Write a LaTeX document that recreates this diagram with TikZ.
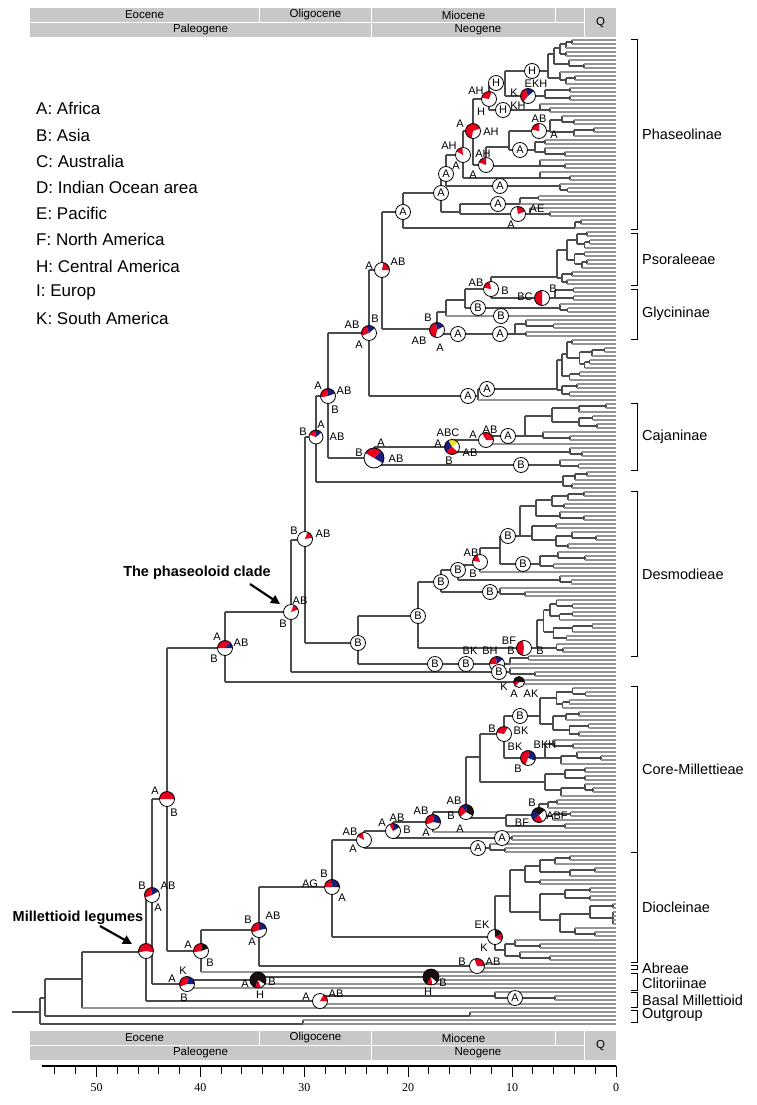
\documentclass[tikz,border=0pt]{standalone}
\usepackage{fontspec}
\setmainfont{Liberation Sans}
\newfontfamily\axisfont{Liberation Serif}
\usetikzlibrary{arrows.meta}

\definecolor{pred}{RGB}{230,0,30}
\definecolor{pblue}{RGB}{28,28,125}
\definecolor{pblk}{RGB}{25,15,15}
\definecolor{pyel}{RGB}{235,225,40}
\definecolor{eraband}{RGB}{200,200,200}

\def\tipx{616}

% recursive crown: x, first tip y, number of tips, x step, first split (0 = auto)
\newcommand\subtree[5]{%
  \ifnum#3<2\relax
    \draw[tipln] (#1,#2) -- (\tipx,#2);%
  \else
    \begingroup
    \ifnum#5>0\relax
      \edef\stNa{#5}%
    \else
      \pgfmathtruncatemacro\stNa{max(1,min(#3-1,round(#3*(0.3+0.04*mod(#2+7*#3,11)))))}%
    \fi
    \pgfmathtruncatemacro\stNb{#3-\stNa}%
    \pgfmathtruncatemacro\stYc{#2+4*\stNa}%
    \pgfmathsetmacro\stYa{#2+2*(\stNa-1)}%
    \pgfmathsetmacro\stYb{\stYc+2*(\stNb-1)}%
    \ifnum\stNa>1\relax
      \pgfmathsetmacro\stXa{min(#1+#4*(0.5+0.25*mod(#2,5)),\tipx-3)}%
    \else
      \edef\stXa{#1}%
    \fi
    \ifnum\stNb>1\relax
      \pgfmathsetmacro\stXb{min(#1+#4*(0.5+0.25*mod(3*#2+#3,5)),\tipx-3)}%
    \else
      \edef\stXb{#1}%
    \fi
    \draw[br] (#1,\stYa) -- (#1,\stYb) (#1,\stYa) -- (\stXa,\stYa) (#1,\stYb) -- (\stXb,\stYb);%
    \edef\stNext{\noexpand\subtree{\stXa}{#2}{\stNa}{#4}{0}\noexpand\subtree{\stXb}{\stYc}{\stNb}{#4}{0}}%
    \stNext
    \endgroup
  \fi}

% pie chart at a node: [radius]{name}{x}{y}{colour/start/end,...}
\newcommand\pie[5][7.5]{%
  \coordinate (#2) at (#3,#4);
  \begin{scope}[shift={(#3,#4)},x=1pt,y=1pt]
    \fill[white] (0,0) circle[radius=#1];
    \foreach \pc/\pa/\pb in {#5}{\fill[\pc] (0,0) -- (\pa:#1) arc[start angle=\pa,end angle=\pb,radius=#1] -- cycle;}
    \draw[line width=0.8pt] (0,0) circle[radius=#1];
  \end{scope}}

\begin{document}
\begin{tikzpicture}[x=1pt,y=-1pt,
   br/.style={draw=black!70,line width=1.05pt},
   tipln/.style={draw=black!42,line width=1.9pt},
   lc/.style={circle,draw=black,line width=0.8pt,fill=white,inner sep=0pt,minimum size=15pt,
              font=\fontsize{11}{12}\selectfont},
   nlab/.style={font=\fontsize{11}{12}\selectfont,inner sep=0pt},
   clade/.style={font=\fontsize{14.5}{17}\selectfont,anchor=west,inner sep=0pt},
   legend/.style={font=\fontsize{17}{20}\selectfont,anchor=west,inner sep=0pt},
   era/.style={font=\fontsize{11.5}{13}\selectfont,inner sep=0pt},
   note/.style={font=\bfseries\fontsize{14.5}{17}\selectfont,inner sep=0pt},
   pointer/.style={line width=2.2pt,-{Triangle[length=9pt,width=9pt]}}
]
\fill[white] (0,0) rectangle (756,1105);
\useasboundingbox (0,0) rectangle (756,1105);

% ---------- geological time bands (top and bottom) ----------
\foreach \yt in {8,1031}{
  \foreach \xa/\xb/\lab in {30/259/Eocene,260/371/Oligocene,372/555/Miocene,556/584/{}}{
    \fill[eraband] (\xa,\yt) rectangle (\xb,\yt+14);
    \node[era] at ({(\xa+\xb)/2},\yt+7) {\lab};
  }
  \foreach \xa/\xb/\lab in {30/371/Paleogene,372/584/Neogene}{
    \fill[eraband] (\xa,\yt+15) rectangle (\xb,\yt+29);
    \node[era] at ({(\xa+\xb)/2},\yt+22) {\lab};
  }
  \fill[eraband] (585,\yt) rectangle (616,\yt+29);
  \node[era] at (600.5,\yt+14.5) {Q};
}

% ---------- time axis ----------
\draw[line width=1.2pt] (42,1066) -- (616,1066);
\foreach \t in {0,2,...,54} \draw[line width=1pt] ({616-10.39*\t},1066) -- ({616-10.39*\t},1074);
\foreach \t in {0,10,...,50}{
  \draw[line width=1pt] ({616-10.39*\t},1066) -- ({616-10.39*\t},1077);
  \node[font=\axisfont\fontsize{12}{14}\selectfont] at ({616-10.39*\t},1088) {\t};
}

% ---------- legend ----------
\foreach \yl/\txt in {108/A: Africa,135/B: Asia,161/C: Australia,187/D: Indian Ocean area,
                      213/E: Pacific,239/F: North America,266/H: Central America,
                      292/I: Europ,318/K: South America}
  \node[legend] at (36,\yl) {\txt};

% ---------- backbone ----------
\draw[br] (12,1012) -- (40,1012);
\foreach \x/\ya/\yb in {40/998/1024,45/979/1016,82/952/1008,146/895/1001,152/799/984,
    167/648/951,225/612/682,291/540/672,305/437/643,358/616/664,316/396/482,328/333/458,
    369/270/396,478/389/400,382/212/329,403/193/228,441/174/212,446/155/186,463/131/178,
    473/99/165,489/83/110,505/71/96,486/147/166,509/131/150,460/204/214,437/312/334,
    446/300/316,465/289/308,491/277/298,374/447/465,452/440/452,486/436/444,418/582/648,
    441/570/592,458/565/580,480/548/572,500/536/564,201/930/972,259/887/966,332/840/937,
    364/831/848,393/822/838,433/812/832,466/757/818,480/734/782,506/815/826,504/716/758,
    187/980/988,258/977/984,320/996/1004}
  \draw[br] (\x,\ya) -- (\x,\yb);
\foreach \xa/\xb/\y in {40/45/998,40/303/1024,45/82/979,45/470/1016,82/146/952,146/152/895,
    146/320/1001,152/167/799,152/187/984,167/225/648,167/201/951,225/291/612,225/519/682,
    291/305/540,291/510/672,305/316/437,305/358/643,358/418/616,358/510/664,316/328/396,
    316/563/482,328/369/333,328/374/458,369/382/270,369/478/396,478/557/389,382/403/212,
    382/437/329,403/441/193,403/575/228,441/446/174,441/460/212,446/463/155,446/560/186,
    463/473/131,463/540/178,473/489/99,473/486/165,489/505/83,489/540/110,505/548/71,
    505/545/96,486/509/147,486/540/166,509/550/131,509/535/150,460/520/204,460/530/214,
    437/446/312,437/515/334,446/465/300,465/491/289,465/560/308,491/557/277,491/555/298,
    374/452/447,374/560/465,452/486/440,452/570/452,486/525/436,418/441/582,418/537/648,
    441/458/570,441/500/592,458/480/565,458/560/580,480/500/548,500/520/536,500/540/564,
    201/259/930,259/332/887,259/477/966,332/364/840,332/495/937,364/393/831,364/490/848,
    393/433/822,393/512/838,433/466/812,466/480/757,466/506/818,480/504/734,480/545/782,
    506/539/815,506/565/826,504/540/716,504/545/758,187/258/980,258/431/977,320/495/996}
  \draw[br] (\xa,\y) -- (\xb,\y);
\foreach \xa/\y in {82/1008,478/400,446/316,486/444,480/572,201/972,433/832,187/988,258/984,320/1004}
  \draw[tipln] (\xa,\y) -- (\tipx,\y);

% ---------- crowns ----------
\foreach \sx/\sy/\sn/\ss/\sa in {548/40/12/12/8,545/88/4/20/2,540/104/3/20/1,550/116/6/16/3,
    535/140/5/20/2,540/160/3/20/1,540/172/3/20/1,560/184/3/15/1,520/196/3/25/2,530/208/3/20/1,
    575/220/3/12/2,557/232/14/10/10,555/288/4/15/2,560/304/3/15/1,515/320/5/22/3,
    557/340/15/10/11,525/404/10/18/7,570/448/3/12/1,560/460/3/15/1,563/472/5/12/3,
    520/492/15/16/8,540/552/5/18/3,560/576/3/15/1,500/588/3/25/1,537/600/14/13/11,
    510/656/3/25/2,510/668/3/25/1,519/680/2/30/1,540/688/13/13/6,545/740/7/16/3,
    545/768/8/16/4,539/800/6/18/3,565/824/2/20/1,512/836/2/30/1,490/844/3/30/1,
    495/856/27/20/21,477/964/2/30/1,431/976/2/30/1,495/992/3/40/1,470/1012/2/30/1,
    303/1020/2/30/1}
  {\subtree{\sx}{\sy}{\sn}{\ss}{\sa}}

% ---------- ancestral-area pies ----------
\pie{pN5}{463}{155}{pred/95/150}
\pie{pN6}{473}{131}{pred/20/260}
\pie{pN7}{489}{99}{pred/70/170}
\pie{pEKH}{528}{96}{pblue/40/110,pred/110/230}
\pie{pQ486}{486}{165}{pred/90/160}
\pie{pAB1}{539}{131}{pred/90/170}
\pie{pAE}{518}{214}{pred/20/100}
\pie{pK3}{382}{270}{pred/0/80}
\pie{pGP}{437}{330}{pblue/30/100,pred/100/260}
\pie{pK2}{369}{333}{pblue/40/110,pred/110/200}
\pie{pPS}{491}{289}{pred/100/170}
\pie{pBC}{542}{298}{pred/90/270}
\pie{pK1}{328}{396}{pblue/20/100,pred/100/190}
\pie[7]{pW}{316}{437}{pblue/40/100,pred/100/160}
\pie[10]{pCJ}{374}{458}{pblue/-30/45,pred/45/150}
\pie{pCJ1}{452}{447}{pyel/40/120,pblue/120/220,pred/220/320}
\pie{pCJ2}{486}{440}{pred/0/120}
\pie{pY}{305}{539}{pred/10/70}
\pie{pX}{291}{612}{pred/20/70}
\pie{pS}{225}{648}{pblue/0/50,pred/50/180}
\pie{pD3}{480}{562}{pred/110/170}
\pie{pBF}{524}{648}{pred/100/260}
\pie{pZb}{497}{664}{pblue/40/100,pred/100/180}
\pie[5.5]{pSb}{519}{682}{pblk/0/180,pred/180/230}
\pie{pC7}{504}{734}{pred/60/170}
\pie{pC7b}{528}{758}{pblue/-20/80,pred/80/250}
\pie{pC6b}{539}{815}{pblk/40/150,pblue/150/220,pred/220/300}
\pie{pC4}{466}{812}{pblk/-30/80,pblue/80/130,pred/130/220}
\pie{pC3}{433}{822}{pblue/-10/80,pred/80/200}
\pie{pC2}{393}{831}{pblue/30/90,pred/90/120}
\pie{pC1}{364}{840}{pred/100/150}
\pie{pV}{332}{887}{pblk/0/20,pblue/20/100,pred/100/180}
\pie{pDI}{495}{937}{pred/-30/30,pblk/30/90}
\pie{pU}{259}{930}{pblue/10/90,pred/90/200}
\pie{pT}{201}{951}{pblk/20/80,pred/80/190}
\pie{pAbr}{477}{966}{pred/0/110}
\pie[8]{pB1}{258}{980}{pblk/-30/250,pred/250/290}
\pie[8]{pB2}{431}{977}{pblk/-40/240,pred/240/280}
\pie{pCL}{187}{984}{pblue/0/80,pred/80/200}
\pie{pBM}{320}{1001}{pred/0/60}
\pie{pM}{146}{951}{pred/-10/190}
\pie{pQ}{152}{895}{pblue/30/100,pred/100/200}
\pie{pP}{167}{799}{pred/0/180}

% ---------- single-area nodes ----------
\foreach \nm/\x/\y/\t in {cPH/403/212/A,cN1/441/193/A,cN4/446/174/A,cH1/496/83/H,cH2/503/110/H,
    cH3/532/71/H,cA1/520/150/A,cA2/500/186/A,cA3/498/204/A,cA4/458/334/A,cA5/500/334/A,
    cB1/478/308/B,cB2/501/316/B,cA6/468/396/A,cA7/487/389/A,cA8/508/436/A,cB3/521/465/B,
    cZ/358/643/B,cDS/418/616/B,cD1/441/582/B,cD2/458/570/B,cB4/508/536/B,cB5/523/564/B,
    cB6/490/592/B,cB7/435/664/B,cB8/466/664/B,cB9/499/672/B,cB10/520/716/B,cA9/502/838/A,
    cA10/478/848/A,cA11/515/998/A}
  \node[lc] (\nm) at (\x,\y) {\t};

% ---------- area labels round the pies ----------
\foreach \x/\y/\t in {449/146/AH,456/166/A,460/124/A,491/132/AH,476/91/AH,481/112/H,
    536/84/EKH,514/93/K,518/106/KH,483/154/AH,473/175/A,539/119/AB,554/135/A,537/209/AE,
    511/225/A,369/266/A,398/262/AB,428/318/B,419/341/AB,440/348/A,352/325/AB,375/319/B,
    359/345/A,476/283/AB,505/291/B,525/297/BC,553/289/B,318/386/A,344/391/AB,335/410/B,
    303/432/B,321/425/A,337/437/AB,359/453/B,381/443/A,396/459/AB,448/433/ABC,438/444/A,
    470/453/AB,449/461/B,473/435/A,490/430/AB,294/531/B,323/534/AB,300/601/AB,283/624/B,
    217/637/A,241/643/AB,214/659/B,471/553/AB,473/574/B,509/641/BF,540/651/B,470/651/BK,
    490/651/BH,511/651/B,504/687/K,514/694/A,531/694/AK,492/729/B,521/731/BK,515/747/BK,
    545/745/BKH,518/769/B,532/803/B,522/823/BF,557/816/ABF,454/801/AB,451/816/B,460/829/A,
    421/811/AB,426/833/A,382/823/A,397/818/AB,407/830/B,350/832/AB,353/849/A,324/874/B,
    310/884/AG,342/898/A,482/925/EK,484/948/K,248/920/B,273/916/AB,252/942/A,188/945/A,
    210/963/B,462/962/B,493/962/AB,245/984/A,260/995/H,272/982/B,428/992/H,443/983/B,
    172/979/A,183/971/K,184/998/B,306/997/A,336/994/AB,142/886/B,168/886/AB,158/908/A,
    155/791/A,174/813/B}
  \node[nlab] at (\x,\y) {\t};

% ---------- clade brackets ----------
\foreach \ya/\yb/\yl/\lab in {40/229/134/Phaseolinae,233/285/259/Psoraleeae,289/339/314/Glycininae,
    403/470/437/Cajaninae,491/656/574/Desmodieae,686/852/769/Core-Millettieae,
    852/962/907/Diocleinae,973/990/983/Clitoriinae,992/1007/1000/Basal Millettioid,
    1010/1022/1015/Outgroup}{
  \draw[line width=1pt] (631,\ya) -- (637,\ya) -- (637,\yb) -- (631,\yb);
  \node[clade] at (642,\yl) {\lab};
}
\draw[line width=1pt] (631,965) -- (637,965) -- (637,969) -- (631,969);
\node[clade] at (642,968) {Abreae};

% ---------- annotations ----------
\node[note] (phl) at (197,573) {The phaseoloid clade};
\draw[pointer] (250,584) -- (280,604);
\node[note] (mil) at (78,918) {Millettioid legumes};
\draw[pointer] (100,926) -- (132,944);

\end{tikzpicture}
\end{document}
